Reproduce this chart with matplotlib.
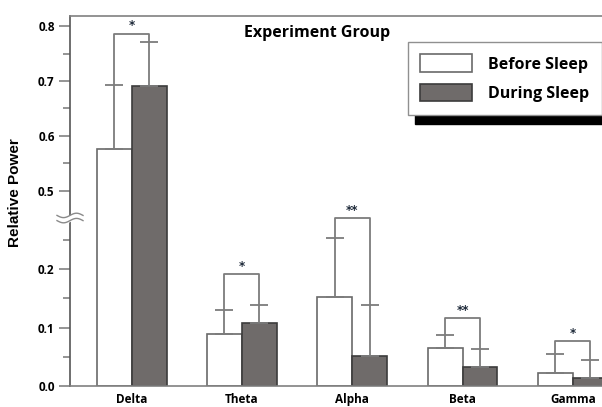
import numpy as np
import matplotlib
matplotlib.use("Agg")
import matplotlib.pyplot as plt
from matplotlib.transforms import IdentityTransform

bands = ["Delta", "Theta", "Alpha", "Beta", "Gamma"]
before = [0.575, 0.089, 0.152, 0.065, 0.023]
before_err = [0.117, 0.041, 0.106, 0.023, 0.032]
during = [0.691, 0.107, 0.051, 0.032, 0.013]
during_err = [0.081, 0.032, 0.088, 0.031, 0.031]
bracket = [0.787, 0.191, 0.359, 0.116, 0.077]
signif = ["*", "*", "**", "**", "*"]

major_ticks = [0.0, 0.1, 0.2, 0.5, 0.6, 0.7, 0.8]
minor_ticks = [0.05, 0.15, 0.25, 0.55, 0.65, 0.75]

# broken axis: 0.25 .. 0.5 squeezed together
V = [-1.0, 0.0, 0.25, 0.5, 2.0]
T = [-585.0, 0.0, 146.25, 195.5, 195.5 + 1.5 * 547]


def fwd(v):
    return np.interp(v, V, T)


def inv(t):
    return np.interp(t, T, V)


fig = plt.figure(figsize=(6.02, 4.07), dpi=100)
W, H = 602, 407
ax = fig.add_axes([70 / W, 21 / H, 558 / W, 370.3 / H])
ax.set_yscale("function", functions=(fwd, inv))

x = np.arange(len(bands))
bw = 0.317
c_before = "white"
c_during = "#6f6b6a"
err_c = "#7c7c7c"

b1 = ax.bar(x - bw / 2, before, bw, color=c_before, edgecolor="#6a6a6a", linewidth=1.2, zorder=2)
b2 = ax.bar(x + bw / 2, during, bw, color=c_during, edgecolor="#3c3c3c", linewidth=1.2, zorder=2)

for xs, vals, errs in [(x - bw / 2, before, before_err), (x + bw / 2, during, during_err)]:
    ax.errorbar(xs, vals, yerr=[np.zeros(len(vals)), errs], fmt="none",
                ecolor=err_c, elinewidth=1.3, capsize=6.5, capthick=1.3, zorder=3)

# significance brackets
for i in range(len(bands)):
    top1 = before[i] + before_err[i]
    top2 = during[i] + during_err[i]
    x1, x2 = x[i] - bw / 2, x[i] + bw / 2
    ax.plot([x1, x1, x2, x2], [top1, bracket[i], bracket[i], top2],
            color=err_c, lw=1.3, zorder=3, solid_capstyle="butt")
    ax.annotate(signif[i], (x[i], bracket[i]), xytext=(0, 1), textcoords="offset points",
                ha="center", va="bottom", fontsize=8.5, fontweight="bold", color="#1e2a3a")

ax.set_xlim(-0.558, 4.5)
ax.set_ylim(0, 0.8196)

ax.set_xticks(x)
ax.set_xticklabels(bands, fontfamily="Open Sans", fontweight="bold", fontsize=8.5)
ax.tick_params(axis="x", length=0, pad=5)

ax.set_yticks(major_ticks)
ax.set_yticks(minor_ticks, minor=True)
ax.set_yticklabels([f"{t:.1f}" for t in major_ticks], fontfamily="Open Sans",
                   fontweight="bold", fontsize=8.5)
ax.tick_params(axis="y", which="major", length=8, width=1.1, color="#777777", pad=3)
ax.tick_params(axis="y", which="minor", length=5, width=1.1, color="#777777")

for side in ["top", "bottom"]:
    ax.spines[side].set_color("#808080")
    ax.spines[side].set_linewidth(1.2)
ax.spines["left"].set_color("#555555")
ax.spines["left"].set_linewidth(1.2)
ax.spines["right"].set_visible(False)

ax.set_ylabel("Relative Power", fontfamily="Liberation Sans", fontweight="bold", fontsize=11)
ax.yaxis.set_label_coords(-0.086, 0.523)

fig.text(317 / W, 1 - 33 / H, "Experiment Group", fontfamily="Open Sans", fontweight="bold",
         fontsize=11.5, ha="center", va="center")

leg = ax.legend([b1, b2], ["Before Sleep", "During Sleep"], loc="upper left",
                bbox_to_anchor=(407.7 / W, 1 - 41.7 / H), bbox_transform=fig.transFigure,
                borderaxespad=0, fancybox=False, frameon=True, edgecolor="#909090",
                prop={"family": "Open Sans", "weight": "bold", "size": 11.5},
                handlelength=3.25, handleheight=1.3, handletextpad=1.0, labelspacing=0.7,
                borderpad=0.8, shadow={"ox": 5, "oy": -6.5, "color": "black", "alpha": 1})
leg.get_frame().set_linewidth(1.0)
leg.get_frame().set_alpha(1)

# axis break mark on the left spine
v_break = inv(386 - 218)
px0 = ax.transAxes.transform((0, 0))[0]
py = ax.transData.transform((0, v_break))[1]
wx = np.linspace(-13, 13, 80)
wy = 2.2 * np.sin(wx / 26 * 2 * np.pi)
ax.fill_between(px0 + wx, py + wy - 2.6, py + wy + 2.6, color="white",
                transform=IdentityTransform(), clip_on=False, zorder=5)
for off in (-2.6, 2.6):
    ax.plot(px0 + wx, py + wy + off, color="#8a8a8a", lw=1.0,
            transform=IdentityTransform(), clip_on=False, zorder=6)

fig.savefig("out.png", dpi=100)
